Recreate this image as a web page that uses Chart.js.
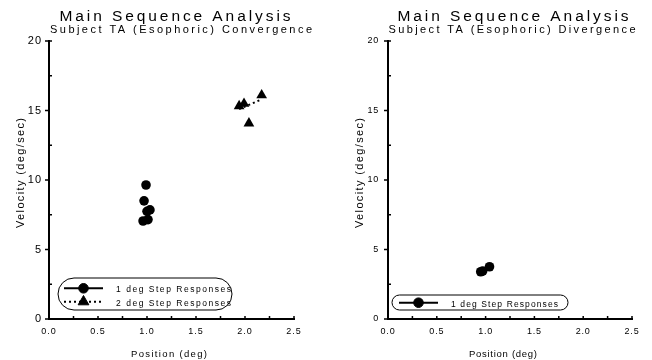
<!DOCTYPE html>
<html>
<head>
<meta charset="utf-8">
<script src="https://cdn.jsdelivr.net/npm/chart.js@4.4.0/dist/chart.umd.min.js"></script>
<style>
body { margin: 0; background: #fff; width: 652px; height: 360px; overflow: hidden; display: flex; }
canvas { display: block; }
</style>
</head>
<body>
<canvas id="conv" width="326" height="360"></canvas>
<canvas id="div" width="326" height="360"></canvas>
<script>
// tick positions and labels
const xTickValues = [0, 0.5, 1, 1.5, 2, 2.5]
const xTickLabels = ["0.0", "0.5", "1.0", "1.5", "2.0", "2.5"]
const xMinorTicks = [0.25, 0.5, 0.75, 1, 1.25, 1.5, 1.75, 2, 2.25, 2.5]
const yTickValues = [0, 5, 10, 15, 20]
const yTickLabels = ["0", "5", "10", "15", "20"]
const yMinorTicks = [2.5, 7.5, 12.5, 17.5, 20]

// convergence: 1 deg and 2 deg step responses
const convOneDegX = [0.99, 0.97, 1.00, 1.03, 0.96, 1.01]
const convOneDegY = [9.64, 8.5, 7.75, 7.85, 7.05, 7.15]
const convTwoDegX = [1.94, 1.99, 2.17, 2.04]
const convTwoDegY = [15.32, 15.49, 16.1, 14.08]
const convTwoDegFitX = [1.94, 2.17]
const convTwoDegFitY = [15.1, 15.8]

// divergence: 1 deg step responses
const divOneDegX = [0.95, 0.97, 1.04]
const divOneDegY = [3.4, 3.45, 3.76]

const FONT = 'Arial, "Liberation Sans", sans-serif'

function toPoints(xs, ys) {
	return xs.map((x, i) => ({ x, y: ys[i] }))
}

function spacedText(ctx, text, cx, y, size, width, rotate) {
	ctx.save()
	ctx.font = size + "px " + FONT
	ctx.letterSpacing = "0px"
	const w = ctx.measureText(text).width
	ctx.letterSpacing = (width - w) / (text.length - 1) + "px"
	ctx.translate(cx, y)
	if (rotate) ctx.rotate(-Math.PI / 2)
	ctx.textAlign = "left"
	ctx.textBaseline = "alphabetic"
	ctx.fillStyle = "#000"
	ctx.fillText(text, -width / 2, 0)
	ctx.restore()
}

function drawLegend(ctx, box, entries) {
	ctx.save()
	ctx.strokeStyle = "#000"
	ctx.lineWidth = 1
	ctx.beginPath()
	ctx.roundRect(box.x, box.y, box.w, box.h, box.h / 2)
	ctx.stroke()
	entries.forEach((e) => {
		ctx.save()
		ctx.lineWidth = 2
		ctx.setLineDash(e.dash || [])
		ctx.beginPath()
		ctx.moveTo(e.x1, e.y)
		ctx.lineTo(e.x2, e.y)
		ctx.stroke()
		ctx.restore()
		ctx.fillStyle = "#000"
		Chart.helpers.drawPoint(ctx, { pointStyle: e.pointStyle, radius: e.radius, rotation: 0, borderWidth: 1 }, (e.x1 + e.x2) / 2, e.y)
		spacedText(ctx, e.text, e.tx + e.tw / 2, e.ty, 8.5, e.tw)
	})
	ctx.restore()
}

function makeChart(id, opts) {
	const decor = {
		id: "decor",
		beforeDraw(chart) {
			chart.ctx.letterSpacing = opts.tickSpacing
		},
		afterDraw(chart) {
			const { ctx, chartArea: a, scales: { x, y } } = chart
			ctx.save()
			ctx.letterSpacing = "0px"
			ctx.strokeStyle = "#000"
			ctx.lineWidth = 1.5
			ctx.beginPath()
			yTickValues.forEach((v) => {
				const p = y.getPixelForValue(v)
				ctx.moveTo(a.left - 4, p)
				ctx.lineTo(a.left, p)
			})
			yMinorTicks.forEach((v) => {
				const p = y.getPixelForValue(v)
				ctx.moveTo(a.left, p)
				ctx.lineTo(a.left + 3, p)
			})
			xMinorTicks.forEach((v) => {
				const p = x.getPixelForValue(v)
				ctx.moveTo(p, a.bottom)
				ctx.lineTo(p, a.bottom - 3)
			})
			ctx.stroke()
			ctx.restore()

			spacedText(ctx, "Main Sequence Analysis", opts.titleX, 21, 15.5, 231)
			spacedText(ctx, opts.subtitle, opts.subX, 33, 11, opts.subW)
			spacedText(ctx, "Position (deg)", opts.xTitleX, 356.5, 9.5, opts.xTitleW)
			spacedText(ctx, "Velocity (deg/sec)", opts.yTitleX, 173, 11, 110, true)
			drawLegend(ctx, opts.legendBox, opts.legend)
		},
	}

	return new Chart(document.getElementById(id), {
		type: "scatter",
		data: { datasets: opts.datasets },
		options: {
			responsive: false,
			animation: false,
			layout: { padding: { left: 0, right: opts.padRight, top: 41, bottom: 0 } },
			plugins: { legend: { display: false }, title: { display: false }, tooltip: { enabled: false } },
			scales: {
				x: {
					type: "linear",
					min: 0,
					max: 2.5,
					afterFit: (s) => { s.height = 41 },
					afterBuildTicks: (s) => { s.ticks = xTickValues.map((v) => ({ value: v })) },
					grid: { display: false, drawTicks: false },
					border: { display: true, color: "#000", width: 2 },
					ticks: {
						color: "#000",
						padding: 7,
						maxRotation: 0,
						font: { family: FONT, size: 9 },
						callback: (v) => xTickLabels[xTickValues.indexOf(v)],
					},
				},
				y: {
					type: "linear",
					min: 0,
					max: 20,
					afterFit: (s) => { s.width = opts.yWidth },
					afterBuildTicks: (s) => { s.ticks = yTickValues.map((v) => ({ value: v })) },
					grid: { display: false, drawTicks: false },
					border: { display: true, color: "#000", width: 2 },
					ticks: {
						color: "#000",
						padding: opts.yPad,
						font: { family: FONT, size: opts.yFont },
						callback: (v) => yTickLabels[yTickValues.indexOf(v)],
					},
				},
			},
		},
		plugins: [decor],
	})
}

function scatterSet(xs, ys, style, radius) {
	return {
		data: toPoints(xs, ys),
		showLine: false,
		pointStyle: style,
		pointRadius: radius,
		backgroundColor: "#000",
		borderColor: "#000",
		borderWidth: 0,
	}
}

function fitSet(xs, ys, dash) {
	return {
		data: toPoints(xs, ys),
		showLine: true,
		pointRadius: 0,
		borderColor: "#000",
		borderWidth: 2,
		borderDash: dash,
	}
}

makeChart("conv", {
	subtitle: "Subject TA (Esophoric) Convergence",
	titleX: 175,
	subX: 181,
	subW: 262,
	xTitleX: 169,
	xTitleW: 76,
	yTitleX: 24,
	yWidth: 49,
	padRight: 32,
	yPad: 7,
	yFont: 11,
	tickSpacing: "1px",
	datasets: [
		fitSet(convTwoDegFitX, convTwoDegFitY, [2, 3]),
		scatterSet(convOneDegX, convOneDegY, "circle", 4.8),
		scatterSet(convTwoDegX, convTwoDegY, "triangle", 6.2),
	],
	legendBox: { x: 58, y: 278, w: 174, h: 32 },
	legend: [
		{ x1: 64, x2: 103, y: 288.3, pointStyle: "circle", radius: 4.8, text: "1 deg Step Responses", tx: 116, tw: 115, ty: 292 },
		{ x1: 64, x2: 103, y: 301.7, dash: [2, 3], pointStyle: "triangle", radius: 6.2, text: "2 deg Step Responses", tx: 116, tw: 115, ty: 305.5 },
	],
})

makeChart("div", {
	subtitle: "Subject TA (Esophoric) Divergence",
	titleX: 187,
	subX: 186,
	subW: 247,
	xTitleX: 177,
	xTitleW: 68,
	yTitleX: 37,
	yWidth: 62,
	padRight: 20,
	yPad: 9,
	yFont: 9,
	tickSpacing: "0.8px",
	datasets: [
		scatterSet(divOneDegX, divOneDegY, "circle", 4.8),
	],
	legendBox: { x: 66, y: 295, w: 176, h: 15 },
	legend: [
		{ x1: 73, x2: 112, y: 302.7, pointStyle: "circle", radius: 4.8, text: "1 deg Step Responses", tx: 125, tw: 107, ty: 306.5 },
	],
})
</script>
</body>
</html>
